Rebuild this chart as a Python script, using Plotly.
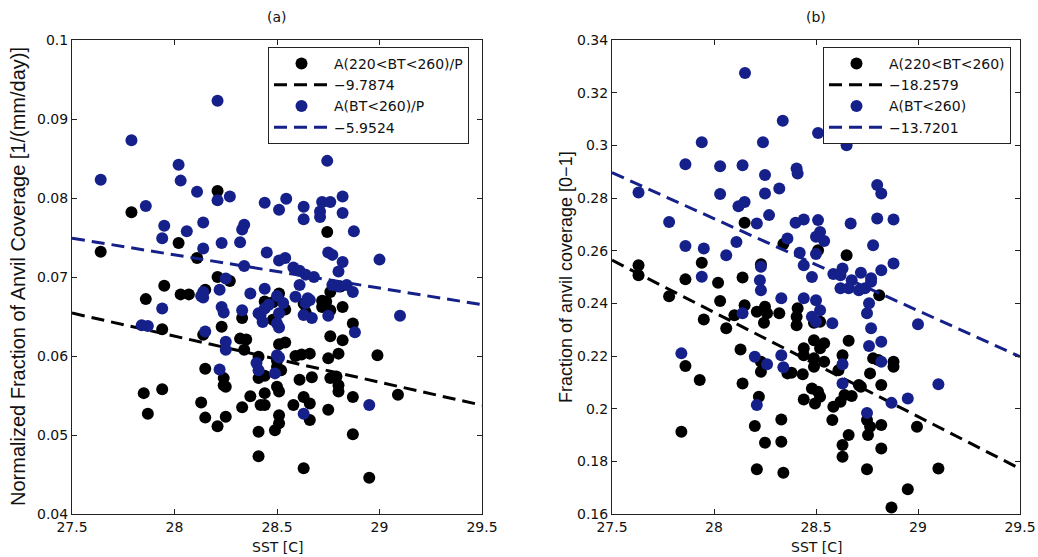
import plotly.graph_objects as go

# ---------------- panel (a): normalized anvil fraction ----------------
a_black_sst = [27.64, 27.79, 28.02, 28.11, 28.21, 28.21, 28.745, 28.27, 28.15, 27.86,
               27.95, 28.03, 28.07, 27.94, 28.14, 28.23, 28.33, 28.32, 28.35, 28.34,
               28.15, 27.85, 27.94, 27.87, 28.13, 28.15, 28.21, 28.24, 28.24, 28.25,
               28.25, 28.33, 28.37, 28.41, 28.41, 28.42, 28.44, 28.44, 28.44, 28.44,
               28.48, 28.51, 28.54, 28.72, 28.72, 28.76, 28.82, 28.48, 28.63, 28.64,
               28.51, 28.54, 28.59, 28.62, 28.66, 28.76, 28.82, 28.80, 28.41, 28.99,
               29.09, 28.87, 28.95, 28.63, 28.49, 28.51, 28.51, 28.66, 28.75, 28.87,
               28.58, 28.63, 28.66, 28.51, 28.50, 28.61, 28.67, 28.76, 28.79, 28.80,
               28.80, 28.41, 28.50, 28.50, 28.52, 28.75, 28.87, 28.76, 28.81, 28.74]
a_black_val = [0.0732, 0.0782, 0.0743, 0.0724, 0.0809, 0.0700, 0.0757, 0.0695, 0.0684, 0.0672,
               0.0689, 0.0678, 0.0678, 0.0634, 0.0627, 0.0637, 0.0648, 0.0622, 0.0621, 0.0608,
               0.0584, 0.0553, 0.0558, 0.0527, 0.0541, 0.0522, 0.0511, 0.0572, 0.0563, 0.0561,
               0.0523, 0.0535, 0.0549, 0.0504, 0.0473, 0.0538, 0.0538, 0.0553, 0.0575, 0.0669,
               0.0668, 0.0679, 0.0659, 0.0670, 0.0662, 0.0681, 0.0662, 0.0646, 0.0666, 0.0655,
               0.0615, 0.0617, 0.0600, 0.0602, 0.0603, 0.0625, 0.0620, 0.0603, 0.0599, 0.0601,
               0.0551, 0.0501, 0.0446, 0.0458, 0.0506, 0.0515, 0.0525, 0.0519, 0.0532, 0.0548,
               0.0538, 0.0548, 0.0540, 0.0555, 0.0561, 0.0570, 0.0573, 0.0572, 0.0574, 0.0563,
               0.0555, 0.0572, 0.0586, 0.0594, 0.0582, 0.0597, 0.0641, 0.0658, 0.0688, 0.0669]

a_blue_sst = [27.64, 27.79, 27.86, 28.21, 28.02, 28.03, 28.11, 28.21, 28.27, 28.44,
              27.95, 27.94, 28.06, 28.14, 28.14, 28.23, 28.34, 28.33, 28.32, 28.34,
              28.25, 28.45, 28.745, 28.545, 28.51, 28.63, 28.63, 28.71, 28.72, 28.76,
              28.82, 28.82, 28.71, 28.875, 29.00, 28.75, 28.77, 28.82, 28.51, 28.54,
              28.58, 28.61, 28.64, 28.68, 28.80, 28.77, 28.80, 28.84, 28.22, 28.14,
              28.14, 28.37, 28.44, 28.50, 28.53, 28.59, 28.61, 28.66, 28.64, 28.23,
              28.24, 28.33, 28.42, 28.44, 28.46, 28.51, 28.50, 28.63, 28.67, 28.75,
              28.15, 28.25, 28.25, 28.51, 28.50, 27.84, 27.87, 27.94, 28.13, 28.22,
              28.40, 28.41, 28.41, 28.43, 28.51, 28.49, 28.63, 28.88, 29.10, 28.95,
              28.87, 28.65]
a_blue_val = [0.0823, 0.0873, 0.0790, 0.0923, 0.0842, 0.0822, 0.0808, 0.0797, 0.0802, 0.0794,
              0.0765, 0.0749, 0.0758, 0.0769, 0.0736, 0.0743, 0.0766, 0.0760, 0.0744, 0.0714,
              0.0698, 0.0731, 0.0847, 0.0799, 0.0785, 0.0789, 0.0773, 0.0776, 0.0795, 0.0795,
              0.0802, 0.0781, 0.0783, 0.0758, 0.0722, 0.0731, 0.0728, 0.0719, 0.0721, 0.0724,
              0.0712, 0.0708, 0.0703, 0.0700, 0.0707, 0.0690, 0.0688, 0.0690, 0.0684, 0.0681,
              0.0674, 0.0679, 0.0685, 0.0676, 0.0667, 0.0675, 0.0690, 0.0671, 0.0667, 0.0662,
              0.0655, 0.0658, 0.0652, 0.0660, 0.0665, 0.0654, 0.0641, 0.0652, 0.0648, 0.0651,
              0.0631, 0.0618, 0.0608, 0.0636, 0.0601, 0.0639, 0.0638, 0.0660, 0.0676, 0.0583,
              0.0591, 0.0582, 0.0654, 0.0643, 0.0598, 0.0578, 0.0527, 0.0630, 0.0651, 0.0538,
              0.0681, 0.0673]

# ---------------- panel (b): anvil fraction ----------------
b_black_sst = [28.15, 28.34, 27.63, 27.94, 28.23, 28.51, 28.65, 28.81, 28.14, 28.15,
               28.21, 28.25, 28.26, 28.32, 28.245, 28.41, 28.405, 28.405, 28.52, 27.63,
               27.78, 27.86, 27.95, 28.02, 28.03, 28.06, 28.10, 28.13, 28.14, 27.86,
               27.93, 27.84, 28.23, 28.22, 28.20, 28.25, 28.21, 28.33, 28.33, 28.34,
               28.36, 28.49, 28.54, 28.52, 28.44, 28.44, 28.38, 28.435, 28.49, 28.49,
               28.54, 28.48, 28.51, 28.52, 28.495, 28.44, 28.585, 28.62, 28.64, 28.675,
               28.58, 28.66, 28.63, 28.61, 28.78, 28.805, 28.765, 28.82, 28.71, 28.72,
               28.88, 28.88, 28.75, 28.765, 28.755, 28.82, 28.995, 28.66, 28.63, 28.63,
               28.82, 28.75, 29.10, 28.95, 28.87, 28.23, 28.49]
b_black_val = [0.2706, 0.2625, 0.2545, 0.2554, 0.2548, 0.2602, 0.2583, 0.2431, 0.2498, 0.2393,
               0.2368, 0.2387, 0.2362, 0.2362, 0.2326, 0.2381, 0.2349, 0.2317, 0.2330, 0.2507,
               0.2427, 0.2491, 0.2339, 0.2478, 0.2409, 0.2305, 0.2355, 0.2225, 0.2096, 0.2162,
               0.2109, 0.1912, 0.2140, 0.2045, 0.1934, 0.1871, 0.1770, 0.1959, 0.1874, 0.1757,
               0.2134, 0.2260, 0.2248, 0.2229, 0.2229, 0.2203, 0.2136, 0.2131, 0.2191, 0.2159,
               0.2178, 0.2077, 0.2064, 0.2045, 0.2020, 0.2035, 0.2007, 0.2026, 0.2052, 0.2048,
               0.1957, 0.2258, 0.2203, 0.2146, 0.2191, 0.2185, 0.2134, 0.2090, 0.2090, 0.2083,
               0.2159, 0.2178, 0.1957, 0.1931, 0.1900, 0.1938, 0.1931, 0.1900, 0.1862, 0.1817,
               0.1849, 0.1770, 0.1773, 0.1694, 0.1625, 0.2178, 0.2326]

b_blue_sst = [28.152, 28.337, 27.94, 28.24, 27.86, 28.03, 28.14, 28.25, 28.405, 28.41,
              27.63, 28.03, 28.25, 28.32, 28.12, 28.15, 27.78, 28.21, 28.27, 28.40,
              27.86, 27.95, 28.06, 28.11, 28.36, 28.23, 28.42, 28.51, 28.65, 28.80,
              28.82, 28.44, 28.51, 28.67, 28.80, 28.88, 28.52, 28.50, 28.54, 28.78,
              28.50, 28.44, 28.63, 28.585, 28.72, 28.77, 28.82, 28.88, 28.48, 28.62,
              28.675, 28.62, 28.66, 28.71, 28.74, 28.77, 28.225, 28.23, 28.33, 28.44,
              28.50, 28.52, 28.48, 28.50, 28.58, 28.76, 28.75, 28.77, 28.14, 27.94,
              27.84, 28.20, 28.26, 28.33, 28.34, 28.21, 28.76, 28.82, 28.82, 29.00,
              28.63, 28.63, 28.87, 28.95, 29.10, 28.75]
b_blue_val = [0.3275, 0.3093, 0.3012, 0.3012, 0.2928, 0.2921, 0.2924, 0.2887, 0.2912, 0.2893,
              0.2821, 0.2815, 0.2817, 0.2836, 0.2769, 0.2785, 0.2709, 0.2703, 0.2735, 0.2706,
              0.2618, 0.2608, 0.2583, 0.2633, 0.2646, 0.2539, 0.2592, 0.3047, 0.3000, 0.2849,
              0.2817, 0.2718, 0.2716, 0.2703, 0.2722, 0.2718, 0.2671, 0.2653, 0.2637, 0.2621,
              0.2587, 0.2545, 0.2532, 0.2511, 0.2516, 0.2495, 0.2526, 0.2551, 0.2500, 0.2507,
              0.2488, 0.2457, 0.2457, 0.2450, 0.2457, 0.2482, 0.2488, 0.2450, 0.2419, 0.2419,
              0.2412, 0.2374, 0.2349, 0.2330, 0.2324, 0.2400, 0.2362, 0.2305, 0.2362, 0.2501,
              0.2210, 0.2197, 0.2169, 0.2203, 0.2157, 0.2014, 0.2238, 0.2254, 0.2178, 0.2321,
              0.2169, 0.2096, 0.2022, 0.2039, 0.2093, 0.1984]

# Linear fits: relative slope (% per degree) and fitted value at the reference SST
fit_ref_sst = 28.5
a_fit_slope_pct = [-9.7874, -5.9524]
a_fit_ref_val = [0.0596, 0.0707]
b_fit_slope_pct = [-18.2579, -13.7201]
b_fit_ref_val = [0.2168, 0.2547]
fit_sst = [27.5, 29.5]

a_names = ["A(220<BT<260)/P", "A(BT<260)/P"]
b_names = ["A(220<BT<260)", "A(BT<260)"]
slope_labels_a = ["\u22129.7874", "\u22125.9524"]
slope_labels_b = ["\u221218.2579", "\u221213.7201"]

BLACK = "#000000"
BLUE = "#15208a"
FONT = "DejaVu Sans, Liberation Sans, Arial, sans-serif"
LABEL_FONT = "Liberation Sans, Arial, Helvetica, sans-serif"
W, H = 1038, 557

# plot-area boxes in pixels (left, right, top, bottom)
box_a = (72, 482, 40, 514)
box_b = (612, 1020, 40, 514)


def dom_x(b):
    return [b[0] / W, b[1] / W]


def dom_y(b):
    return [1 - b[3] / H, 1 - b[2] / H]


def fit_line(slope_pct, ref_val):
    return [ref_val * (1 + slope_pct / 100.0 * (x - fit_ref_sst)) for x in fit_sst]


fig = go.Figure()

panels = [
    ("x", "y", "legend", a_black_sst, a_black_val, a_blue_sst, a_blue_val,
     a_fit_slope_pct, a_fit_ref_val, a_names, slope_labels_a),
    ("x2", "y2", "legend2", b_black_sst, b_black_val, b_blue_sst, b_blue_val,
     b_fit_slope_pct, b_fit_ref_val, b_names, slope_labels_b),
]

for xa, ya, leg, bx, by, ux, uy, slopes, refs, names, slabels in panels:
    fig.add_trace(go.Scatter(x=bx, y=by, mode="markers", name=names[0],
                             marker=dict(color=BLACK, size=12, line=dict(width=0)),
                             xaxis=xa, yaxis=ya, legend=leg))
    fig.add_trace(go.Scatter(x=fit_sst, y=fit_line(slopes[0], refs[0]), mode="lines",
                             name=slabels[0],
                             line=dict(color=BLACK, width=3, dash="13px,7px"),
                             xaxis=xa, yaxis=ya, legend=leg))
    fig.add_trace(go.Scatter(x=ux, y=uy, mode="markers", name=names[1],
                             marker=dict(color=BLUE, size=12, line=dict(width=0)),
                             xaxis=xa, yaxis=ya, legend=leg))
    fig.add_trace(go.Scatter(x=fit_sst, y=fit_line(slopes[1], refs[1]), mode="lines",
                             name=slabels[1],
                             line=dict(color=BLUE, width=3, dash="13px,7px"),
                             xaxis=xa, yaxis=ya, legend=leg))

axis_common = dict(showgrid=False, zeroline=False, showline=True, linecolor="#222",
                   linewidth=1, mirror="ticks", ticks="inside", ticklen=5,
                   tickcolor="#222", tickfont=dict(family=FONT, size=14, color="#111"),
                   automargin=False)

legend_common = dict(xanchor="left", yanchor="top", bgcolor="white",
                     bordercolor="#222", borderwidth=1, itemwidth=55,
                     font=dict(family=FONT, size=14, color="#111"), tracegroupgap=0)

fig.update_layout(
    template="none",
    width=W, height=H,
    margin=dict(l=0, r=0, t=0, b=0),
    paper_bgcolor="white", plot_bgcolor="white",
    font=dict(family=FONT, color="#111"),
    xaxis=dict(domain=dom_x(box_a), range=[27.5, 29.5], dtick=0.5, tick0=27.5,
               anchor="y", **axis_common),
    yaxis=dict(domain=dom_y(box_a), range=[0.04, 0.1], dtick=0.01, tick0=0.04,
               anchor="x", **axis_common),
    xaxis2=dict(domain=dom_x(box_b), range=[27.5, 29.5], dtick=0.5, tick0=27.5,
                anchor="y2", **axis_common),
    yaxis2=dict(domain=dom_y(box_b), range=[0.16, 0.34], dtick=0.02, tick0=0.16,
                anchor="x2", **axis_common),
    legend=dict(x=268 / W, y=1 - 47 / H, **legend_common),
    legend2=dict(x=823 / W, y=1 - 47 / H, **legend_common),
    showlegend=True,
)

title_font = dict(family=FONT, size=14, color="#111")
annotations = [
    dict(text="(a)", x=(box_a[0] + box_a[1]) / 2 / W, y=1 - 17 / H, font=title_font),
    dict(text="(b)", x=(box_b[0] + box_b[1]) / 2 / W, y=1 - 17 / H, font=title_font),
    dict(text="SST [C]", x=(box_a[0] + box_a[1]) / 2 / W, y=1 - 547 / H, font=title_font),
    dict(text="SST [C]", x=(box_b[0] + box_b[1]) / 2 / W, y=1 - 547 / H, font=title_font),
    dict(text="Normalized Fraction of Anvil Coverage [1/(mm/day)]", x=18 / W,
         y=1 - (box_a[2] + box_a[3]) / 2 / H, textangle=-90,
         font=dict(family=LABEL_FONT, size=20, color="#111")),
    dict(text="Fraction of anvil coverage [0\u22121]", x=566 / W,
         y=1 - (box_b[2] + box_b[3]) / 2 / H, textangle=-90,
         font=dict(family=LABEL_FONT, size=18, color="#111")),
]
for a in annotations:
    fig.add_annotation(xref="paper", yref="paper", showarrow=False,
                       xanchor="center", yanchor="middle", **a)

fig.write_html("out.html")
